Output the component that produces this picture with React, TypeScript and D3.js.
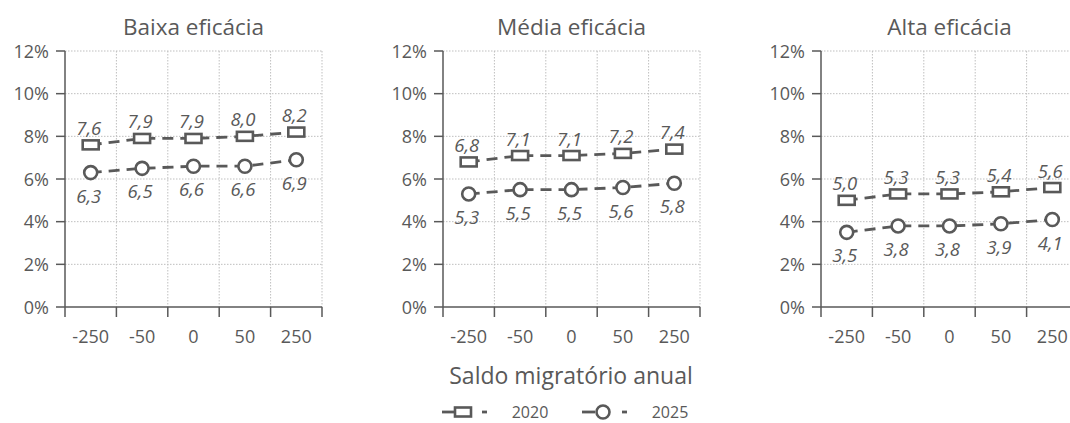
import React from "react";
import * as d3 from "d3";

const categories = ["-250", "-50", "0", "50", "250"];
const panelTitles = ["Baixa eficácia", "Média eficácia", "Alta eficácia"];
const baixa2020 = [7.6, 7.9, 7.9, 8.0, 8.2];
const baixa2025 = [6.3, 6.5, 6.6, 6.6, 6.9];
const media2020 = [6.8, 7.1, 7.1, 7.2, 7.4];
const media2025 = [5.3, 5.5, 5.5, 5.6, 5.8];
const alta2020 = [5.0, 5.3, 5.3, 5.4, 5.6];
const alta2025 = [3.5, 3.8, 3.8, 3.9, 4.1];
const yTicks = [0, 2, 4, 6, 8, 10, 12];
const seriesNames = ["2020", "2025"];
const xTitle = "Saldo migratório anual";

const panelData = [
  [baixa2020, baixa2025],
  [media2020, media2025],
  [alta2020, alta2025],
];

const W = 1070;
const H = 423;
const FONT = "'Open Sans', Lato, sans-serif";
const TEXT = "#595959";
const LINE = "#595959";
const GRID = "#bfbfbf";
const panelLeft = [65, 443, 821];
const panelW = 257;
const top = 51;
const bottom = 307;

const fmt = (v: number) => v.toFixed(1).replace(".", ",");

function Marker({ kind, x, y }: { kind: number; x: number; y: number }) {
  if (kind === 0) {
    return <rect x={x - 8} y={y - 4.5} width={16} height={9} fill="#fff" stroke={LINE} strokeWidth={2.6} />;
  }
  return <circle cx={x} cy={y} r={6.5} fill="#fff" stroke={LINE} strokeWidth={2.6} />;
}

function Panel({ idx }: { idx: number }) {
  const x0 = panelLeft[idx];
  const xScale = d3.scaleBand<string>().domain(categories).range([x0, x0 + panelW]);
  const yScale = d3.scaleLinear().domain([0, 12]).range([bottom, top]);
  const bw = xScale.bandwidth();
  const line = d3
    .line<number>()
    .x((_, i) => (xScale(categories[i]) as number) + bw / 2)
    .y((d) => yScale(d));
  const boundaries = categories.map((c) => (xScale(c) as number) + bw);
  return (
    <g>
      <text x={x0 + panelW / 2} y={35} textAnchor="middle" fontSize={22.5} fill={TEXT} fontFamily={FONT}>
        {panelTitles[idx]}
      </text>
      {yTicks.filter((t) => t > 0).map((t) => (
        <line key={"hg" + t} x1={x0} x2={x0 + panelW} y1={yScale(t)} y2={yScale(t)} stroke={GRID} strokeWidth={1} strokeDasharray="1.5,1.5" />
      ))}
      {boundaries.map((b, i) => (
        <line key={"vg" + i} x1={b} x2={b} y1={top} y2={bottom} stroke={GRID} strokeWidth={1} strokeDasharray="1.5,1.5" />
      ))}
      <line x1={x0} x2={x0} y1={top} y2={bottom} stroke={LINE} strokeWidth={1.5} />
      <line x1={x0} x2={x0 + panelW} y1={bottom} y2={bottom} stroke={LINE} strokeWidth={1.5} />
      {yTicks.map((t) => (
        <g key={"yt" + t}>
          <line x1={x0 - 9} x2={x0} y1={yScale(t)} y2={yScale(t)} stroke={LINE} strokeWidth={1.5} />
          <text x={x0 - 16} y={yScale(t) + 6.5} textAnchor="end" fontSize={18} fill={TEXT} fontFamily={FONT}>
            {t + "%"}
          </text>
        </g>
      ))}
      {[x0, ...boundaries].map((b, i) => (
        <line key={"xt" + i} x1={b} x2={b} y1={bottom} y2={bottom + 10} stroke={LINE} strokeWidth={1.5} />
      ))}
      {categories.map((c) => (
        <text key={"xl" + c} x={(xScale(c) as number) + bw / 2} y={343} textAnchor="middle" fontSize={18} fill={TEXT} fontFamily={FONT}>
          {c}
        </text>
      ))}
      {panelData[idx].map((vals, s) => (
        <g key={"s" + s}>
          <path d={line(vals) || ""} fill="none" stroke={LINE} strokeWidth={2.8} strokeDasharray="11,7" />
          {vals.map((v, i) => {
            const cx = (xScale(categories[i]) as number) + bw / 2;
            const cy = yScale(v);
            return (
              <g key={i}>
                <Marker kind={s} x={cx} y={cy} />
                <text
                  x={cx - 2}
                  y={s === 0 ? cy - 10 : cy + 30}
                  textAnchor="middle"
                  fontSize={18.5}
                  fontStyle="italic"
                  fill={TEXT}
                  fontFamily={FONT}
                >
                  {fmt(v)}
                </text>
              </g>
            );
          })}
        </g>
      ))}
    </g>
  );
}

export default function App() {
  const legendX = [442, 582];
  const ly = 412;
  return (
    <svg width={W} height={H} style={{ position: "absolute", left: 0, top: 0 }}>
      <rect x={0} y={0} width={W} height={H} fill="#fff" />
      {panelTitles.map((_, i) => (
        <Panel key={i} idx={i} />
      ))}
      <text x={571} y={384} textAnchor="middle" fontSize={23} fill={TEXT} fontFamily={FONT}>
        {xTitle}
      </text>
      {seriesNames.map((n, s) => (
        <g key={n}>
          <line x1={legendX[s]} x2={legendX[s] + 13} y1={ly} y2={ly} stroke={LINE} strokeWidth={2.8} />
          <line x1={legendX[s] + 40} x2={legendX[s] + 45} y1={ly} y2={ly} stroke={LINE} strokeWidth={2.8} />
          <Marker kind={s} x={legendX[s] + 21} y={ly} />
          <text x={legendX[s] + 88} y={ly + 6} textAnchor="middle" fontSize={16} fill={TEXT} fontFamily={FONT}>
            {n}
          </text>
        </g>
      ))}
    </svg>
  );
}
